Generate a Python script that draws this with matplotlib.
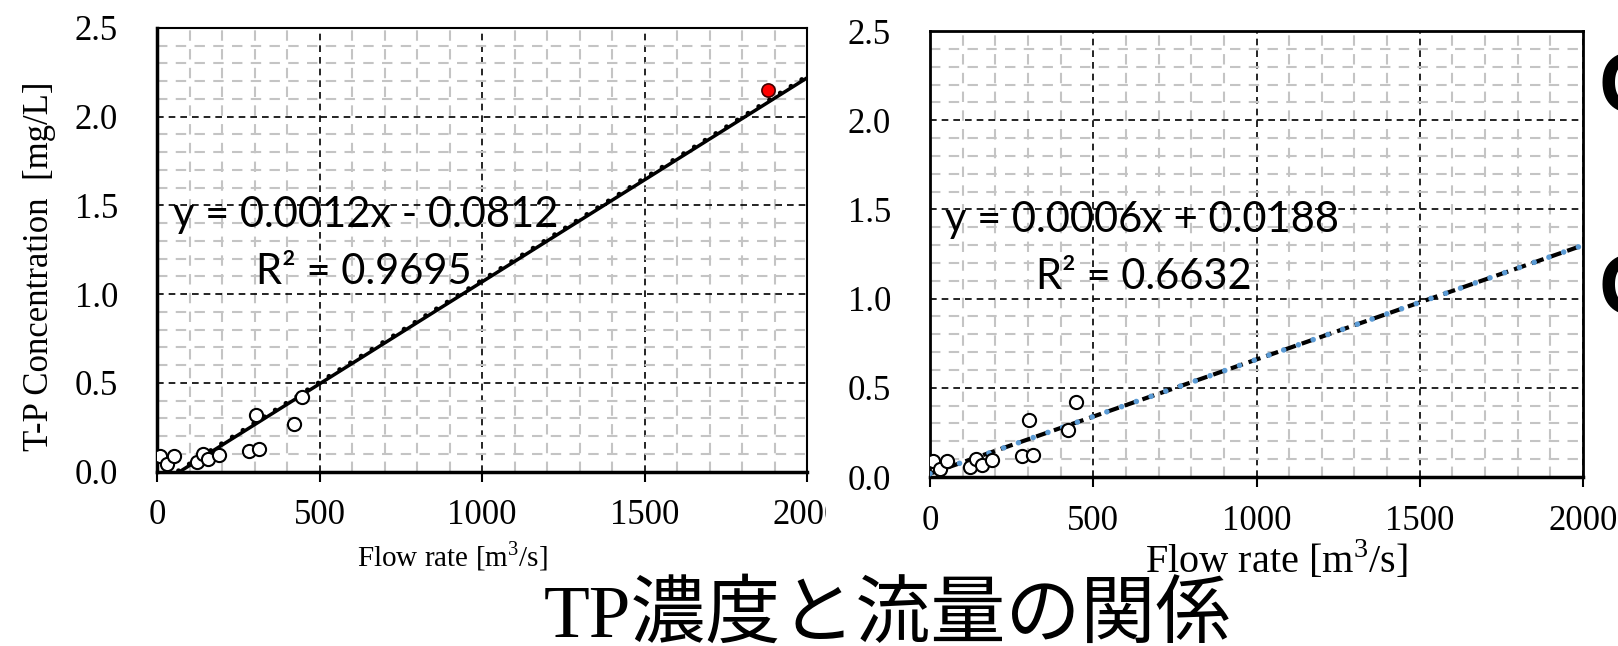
import matplotlib.pyplot as plt
from matplotlib.ticker import MultipleLocator
from matplotlib.patches import Rectangle
import numpy as np

# observed samples: flow rate [m3/s] vs T-P [mg/L]
flow = [10, 32, 53, 123, 142, 158, 191, 283, 304, 315, 422, 447]
tp = [0.09, 0.045, 0.09, 0.055, 0.10, 0.07, 0.095, 0.115, 0.32, 0.125, 0.265, 0.42]
# flood sample (left panel only)
flood_flow = [1880]
flood_tp = [2.15]

# trend lines as (slope, intercept)
fit_all = (0.00115, -0.0812)
fit_all_dots = (0.00115, -0.072)
fit_low = (0.00064, 0.0188)
fit_x = np.array([0, 2000])

eq_all = ["y = 0.0012x - 0.0812", "R² = 0.9695"]
eq_low = ["y = 0.0006x + 0.0188", "R² = 0.6632"]

plt.rcParams['font.family'] = ['Liberation Serif', 'Noto Sans CJK JP']
plt.rcParams['mathtext.fontset'] = 'custom'
plt.rcParams['mathtext.rm'] = 'Liberation Serif'

W, H = 1618, 646
fig = plt.figure(figsize=(W / 100, H / 100), dpi=100)

ax1 = fig.add_axes([157 / W, 1 - 471.5 / H, 650 / W, 443.5 / H])
ax2 = fig.add_axes([930 / W, 1 - 477 / H, 653 / W, 446 / H])
ax2.set_zorder(1)


def style(ax):
    ax.set_xlim(0, 2000)
    ax.set_ylim(0, 2.5)
    ax.xaxis.set_major_locator(MultipleLocator(500))
    ax.xaxis.set_minor_locator(MultipleLocator(100))
    ax.yaxis.set_major_locator(MultipleLocator(0.5))
    ax.yaxis.set_minor_locator(MultipleLocator(0.1))
    ax.yaxis.set_major_formatter(lambda v, p: f"{v:.1f}")
    ax.set_axisbelow(True)
    ax.grid(which='minor', color='#c4c4c4', linestyle=(0, (5, 4)), linewidth=1.5)
    ax.grid(which='major', color='black', linestyle=(0, (4, 3)), linewidth=1.2)
    ax.tick_params(which='minor', length=0)
    ax.tick_params(axis='x', which='major', length=7, width=1.5, direction='out',
                   labelsize=25, pad=13)
    ax.tick_params(axis='y', which='major', length=0, labelsize=25, pad=28)
    for side in ['left', 'bottom']:
        ax.spines[side].set_linewidth(2.5)
    for side in ['top', 'right']:
        ax.spines[side].set_linewidth(1.5)


style(ax1)
style(ax2)

# left: all samples incl. flood
y1 = fit_all[0] * fit_x + fit_all[1]
y1d = fit_all_dots[0] * fit_x + fit_all_dots[1]
ax1.plot(fit_x, y1, color='black', linewidth=2.5, zorder=3)
ax1.plot(fit_x, y1d, color='black', linewidth=3.5, linestyle=(0, (0.01, 2.6)),
         dash_capstyle='round', zorder=3)
ax1.scatter(flow, tp, s=90, facecolor='white', edgecolor='black', linewidth=1.5, zorder=4)
ax1.scatter(flood_flow, flood_tp, s=90, facecolor='#ff0000', edgecolor='#400000', linewidth=1.2, zorder=4)
ax1.text(49, 1.378, eq_all[0], family='Lato', fontsize=30, ha='left', va='baseline', zorder=5)
ax1.text(305, 1.057, eq_all[1], family='Lato', fontsize=30, ha='left', va='baseline', zorder=5)
ax1.set_ylabel("T-P Concentration  [mg/L]", fontsize=25)
ax1.yaxis.set_label_coords(-0.155, 0.463)
ax1.set_xlabel("Flow rate [m$^3$/s]", fontsize=21)
ax1.xaxis.set_label_coords(0.454, -0.152)

# right: without flood sample
y2 = fit_low[0] * fit_x + fit_low[1]
ax2.plot(fit_x, y2, color='black', linewidth=3, linestyle=(0, (3, 1.5)), zorder=3)
ax2.plot(fit_x, y2, color='#5b9bd5', linewidth=4, linestyle=(0, (0.01, 2.8)),
         dash_capstyle='round', zorder=3)
ax2.scatter(flow, tp, s=90, facecolor='white', edgecolor='black', linewidth=1.5, zorder=4)
ax2.text(46, 1.373, eq_low[0], family='Lato', fontsize=30, ha='left', va='baseline', zorder=5)
ax2.text(325, 1.054, eq_low[1], family='Lato', fontsize=30, ha='left', va='baseline', zorder=5)
ax2.set_xlabel("Flow rate [m$^3$/s]", fontsize=29)
ax2.xaxis.set_label_coords(0.53, -0.14)
for side in ['top', 'right', 'left']:
    ax2.spines[side].set_linewidth(2)

# right panel sits over the tail of the left "2000" label
fig.patches.append(Rectangle((826 / W, 1 - 540 / H), 100 / W, 50 / H, transform=fig.transFigure,
                             facecolor='white', edgecolor='none', zorder=0.5))

# cut-off circles at the right edge of the slide
fig.text(1598 / W, 1 - 112 / H, "O", family='Liberation Sans', fontweight='bold',
         fontsize=62, ha='left', va='baseline')
fig.text(1598 / W, 1 - 314 / H, "O", family='Liberation Sans', fontweight='bold',
         fontsize=62, ha='left', va='baseline')

fig.text(887 / W, 9 / H, "TP濃度と流量の関係", fontsize=54, ha='center', va='baseline')

fig.savefig("out.png", dpi=100)
